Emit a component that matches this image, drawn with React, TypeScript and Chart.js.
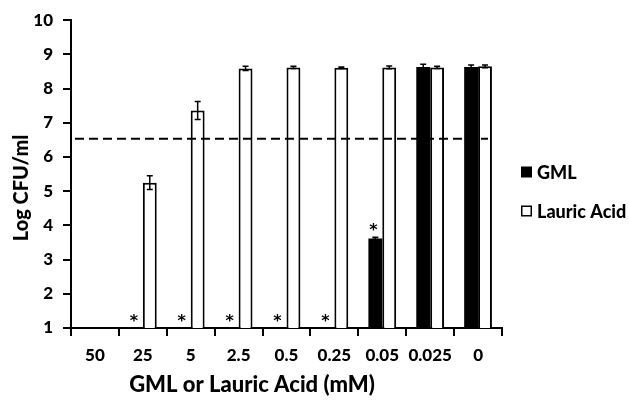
import React, { useEffect, useRef } from "react";
import { Chart, registerables } from "chart.js";

Chart.register(...registerables);

const categories = ["50", "25", "5", "2.5", "0.5", "0.25", "0.05", "0.025", "0"];
const gmlValues = [1, 1, 1, 1, 1, 1, 3.62, 8.63, 8.63];
const gmlErrors = [0, 0, 0, 0, 0, 0, 0.03, 0.08, 0.06];
const lauricValues = [1, 5.25, 7.36, 8.59, 8.62, 8.61, 8.62, 8.62, 8.65];
const lauricErrors = [0, 0.2, 0.26, 0.06, 0.03, 0.02, 0.04, 0.03, 0.04];
const gmlSignificant = [false, true, true, true, true, true, true, false, false];
const thresholdValue = 6.53;
const yTicks = [1, 2, 3, 4, 5, 6, 7, 8, 9, 10];
const xTitle = "GML or Lauric Acid (mM)";
const yTitle = "Log CFU/ml";
const seriesNames = ["GML", "Lauric Acid"];

const FONT = "Lato, 'Open Sans', sans-serif";
const WEIGHT = "900";

export default function App() {
  const ref = useRef<HTMLCanvasElement | null>(null);

  useEffect(() => {
    document.body.style.margin = "0";
    const canvas = ref.current;
    if (!canvas) return;

    const overlay = {
      id: "overlay",
      afterDatasetsDraw(chart: any) {
        const ctx = chart.ctx;
        const y = chart.scales.y;
        const area = chart.chartArea;
        ctx.save();
        // dashed threshold line
        const ty = y.getPixelForValue(thresholdValue);
        ctx.strokeStyle = "#000";
        ctx.lineWidth = 2;
        ctx.setLineDash([9, 5]);
        ctx.beginPath();
        ctx.moveTo(area.left + 4, ty);
        ctx.lineTo(area.right - 14, ty);
        ctx.stroke();
        ctx.setLineDash([]);
        // error bars
        const errs = [gmlErrors, lauricErrors];
        const vals = [gmlValues, lauricValues];
        [0, 1].forEach((di) => {
          const meta = chart.getDatasetMeta(di);
          meta.data.forEach((bar: any, i: number) => {
            const e = errs[di][i];
            if (!e) return;
            const v = vals[di][i];
            const yTop = y.getPixelForValue(v + e);
            const yBot = y.getPixelForValue(v - e);
            ctx.strokeStyle = "#000";
            ctx.lineWidth = 1.5;
            ctx.beginPath();
            ctx.moveTo(bar.x, yTop);
            ctx.lineTo(bar.x, yBot);
            ctx.moveTo(bar.x - 3, yTop);
            ctx.lineTo(bar.x + 3, yTop);
            ctx.moveTo(bar.x - 3, yBot);
            ctx.lineTo(bar.x + 3, yBot);
            ctx.stroke();
          });
        });
        // asterisks
        const meta0 = chart.getDatasetMeta(0);
        ctx.fillStyle = "#000";
        ctx.font = `bold 16px 'DejaVu Sans', sans-serif`;
        ctx.textAlign = "center";
        ctx.textBaseline = "alphabetic";
        meta0.data.forEach((bar: any, i: number) => {
          if (!gmlSignificant[i]) return;
          const top = y.getPixelForValue(gmlValues[i] + gmlErrors[i]);
          ctx.fillText("*", bar.x - 2, top - 2);
        });
        ctx.restore();
      },
      afterDraw(chart: any) {
        const ctx = chart.ctx;
        ctx.save();
        ctx.fillStyle = "#000";
        // x title
        ctx.font = `${WEIGHT} 22px ${FONT}`;
        ctx.textAlign = "center";
        ctx.textBaseline = "middle";
        ctx.fillText(xTitle, 252, 385);
        // y title
        ctx.font = `${WEIGHT} 20px ${FONT}`;
        ctx.save();
        ctx.translate(22, 188);
        ctx.rotate(-Math.PI / 2);
        ctx.fillText(yTitle, 0, 0);
        ctx.restore();
        // legend
        ctx.font = `${WEIGHT} 18px ${FONT}`;
        ctx.textAlign = "left";
        const lx = 521;
        const ys = [172, 211];
        ys.forEach((ly, i) => {
          if (i === 0) {
            ctx.fillStyle = "#000";
            ctx.fillRect(lx, ly - 5.5, 11, 11);
          } else {
            ctx.strokeStyle = "#000";
            ctx.lineWidth = 1.5;
            ctx.strokeRect(lx + 0.75, ly - 4.75, 9.5, 9.5);
          }
          ctx.fillStyle = "#000";
          ctx.fillText(seriesNames[i], lx + 16, ly + 1);
        });
        ctx.restore();
      },
    };

    const chart = new Chart(canvas, {
      type: "bar",
      data: {
        labels: categories,
        datasets: [
          {
            label: seriesNames[0],
            data: gmlValues,
            backgroundColor: "#000",
            borderWidth: 0,
            categoryPercentage: 0.58,
            barPercentage: 1,
          },
          {
            label: seriesNames[1],
            data: lauricValues,
            backgroundColor: "#fff",
            borderColor: "#000",
            borderWidth: 2,
            categoryPercentage: 0.58,
            barPercentage: 1,
          },
        ],
      },
      options: {
        animation: false,
        responsive: false,
        maintainAspectRatio: false,
        layout: { padding: { top: 17, right: 127, left: 0, bottom: 0 } },
        plugins: {
          legend: { display: false },
          tooltip: { enabled: false },
          title: { display: false },
        },
        scales: {
          x: {
            afterFit: (s: any) => {
              s.height = 72;
            },
            border: { color: "#000", width: 2 },
            grid: {
              offset: true,
              drawOnChartArea: false,
              drawTicks: true,
              tickLength: 8,
              tickColor: "#000",
              lineWidth: 2,
            },
            ticks: {
              color: "#000",
              font: { family: FONT, size: 17, weight: WEIGHT },
              padding: 9,
              maxRotation: 0,
              autoSkip: false,
            },
          },
          y: {
            min: 1,
            max: 10,
            afterFit: (s: any) => {
              s.width = 71;
            },
            afterBuildTicks: (s: any) => {
              s.ticks = yTicks.map((v) => ({ value: v }));
            },
            border: { color: "#000", width: 2 },
            grid: {
              drawOnChartArea: false,
              drawTicks: true,
              tickLength: 8,
              tickColor: "#000",
              lineWidth: 2,
            },
            ticks: {
              color: "#000",
              font: { family: FONT, size: 17, weight: WEIGHT },
              padding: 10,
            },
          },
        },
      },
      plugins: [overlay],
    });

    return () => chart.destroy();
  }, []);

  return <canvas ref={ref} width={629} height={400} style={{ display: "block" }} />;
}
